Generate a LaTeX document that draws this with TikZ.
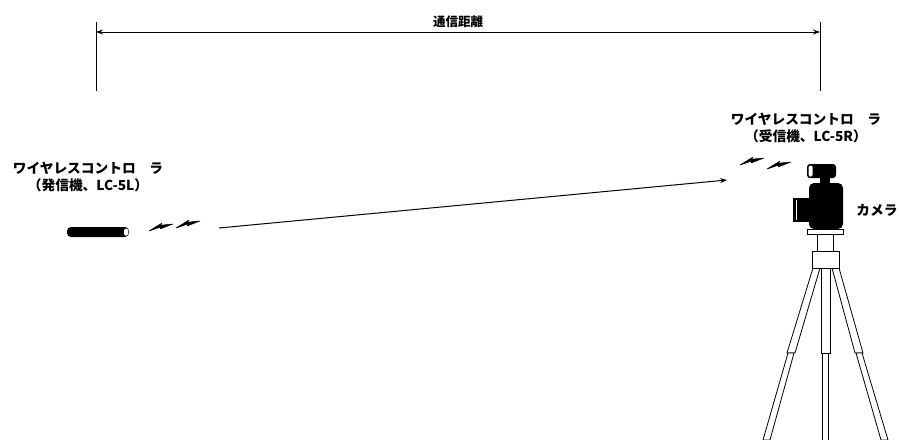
\documentclass[tikz,border=0pt]{standalone}
\usepackage{fontspec}
\newfontfamily\jpfont{Noto Sans CJK JP}
\usetikzlibrary{positioning, arrows.meta}
\tikzset{>={Stealth[length=7pt, width=5pt]}}
\tikzset{
  jtext/.style={font=\jpfont\bfseries\fontsize{13.7}{17}\selectfont, align=center, inner sep=0},
  tube/.style={draw, fill=white, line width=0.8pt},
  bolt/.pic={\filldraw[line width=0.5pt, line join=round] (0,10) -- (13,2) -- (11.5,4.2) -- (24,3) -- (11,8) -- (12.5,5.8) -- cycle;}
}

\begin{document}
\begin{tikzpicture}[x=1pt, y=-1pt, line width=0.8pt]
  \useasboundingbox (0,0) rectangle (899,439);

  % distance between the two units
  \coordinate (dl) at (96,32);
  \coordinate (dr) at (820,32);
  \draw (96,22) -- (96,91);
  \draw (820,22) -- (820,91);
  \draw[<->] (dl) -- node[jtext, font=\jpfont\bfseries\fontsize{12.5}{14}\selectfont, above=4pt] (dist) {通信距離} (dr);

  % transmitter
  \node[fill=black, rounded corners=4pt, minimum width=62pt, minimum height=10pt, inner sep=0] (tx) at (98,232) {};
  \fill[white, rounded corners=1.5pt] (124,228.5) rectangle (128.3,235.5);
  \node[jtext] (txlabel) at (88,177) {ワイヤレスコントロ　ラ\\（発信機、LC-5L）};
  \pic at (149,221) {bolt};
  \pic at (176,218) {bolt};

  % receiver
  \node[jtext] (rxlabel) at (806,128) {ワイヤレスコントロ　ラ\\（受信機、LC-5R）};
  \pic at (740,155) {bolt};
  \pic at (767,159) {bolt};
  \coordinate (sig0) at (219,228);
  \coordinate (sig1) at (727,180);
  \draw[->, line width=1pt] (sig0) -- (sig1);

  % camera on ball head
  \fill[rounded corners=3pt] (807,164) rectangle (836,178);
  \fill[white, rounded corners=1.5pt] (808.5,165.5) rectangle (812.5,176.5);
  \fill (820,177) rectangle (830,185);
  \fill[rounded corners=5pt] (809,229) -- (809,183) -- (843,183) -- (843,229) -- cycle;
  \fill (793,198) rectangle (809,222);
  \draw[white, line width=0.7pt] (796,200) -- (796,220);
  \node[tube, minimum width=36pt, minimum height=5pt, inner sep=0] (plate) at (825,231.5) {};
  \node[jtext] (cam) at (877,210) {カメラ};

  % tripod
  \node[tube, minimum width=16pt, minimum height=17pt, inner sep=0] (column) at (825,242.5) {};
  \draw[tube] (813,268) -- (820,268) -- (795,353) -- (787,353) -- cycle;
  \draw[tube] (788,353) -- (794,353) -- (770,440) -- (763,440) -- cycle;
  \draw[tube] (832,268) -- (839,268) -- (863,353) -- (855,353) -- cycle;
  \draw[tube] (856,353) -- (862,353) -- (888,440) -- (881,440) -- cycle;
  \draw[tube] (821,268) rectangle (830,353);
  \draw[tube] (822.5,353) rectangle (828.5,440);
  \node[tube, minimum width=27pt, minimum height=17pt, inner sep=0] (collar) at (825.5,259.5) {};
\end{tikzpicture}
\end{document}
